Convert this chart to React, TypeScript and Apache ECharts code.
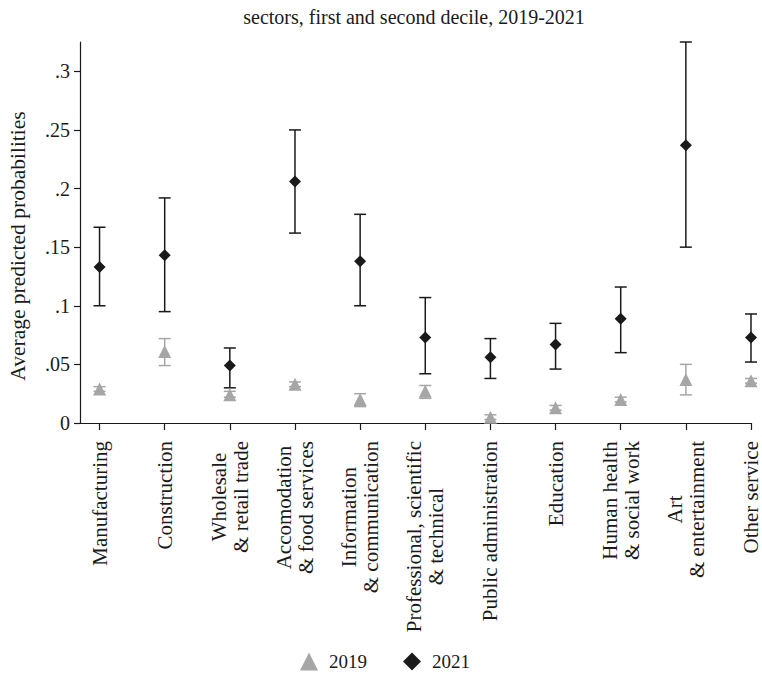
import React, { useEffect, useRef } from "react";
import * as echarts from "echarts";

const categories = [
  "Manufacturing",
  "Construction",
  "Wholesale\n& retail trade",
  "Accomodation\n& food services",
  "Information\n& communication",
  "Professional, scientific\n& technical",
  "Public administration",
  "Education",
  "Human health\n& social work",
  "Art\n& entertainment",
  "Other service",
];

const mean2019 = [0.029, 0.061, 0.024, 0.033, 0.020, 0.027, 0.005, 0.013, 0.020, 0.037, 0.036];
const low2019 = [0.027, 0.049, 0.022, 0.031, 0.014, 0.021, 0.003, 0.011, 0.018, 0.024, 0.034];
const high2019 = [0.031, 0.072, 0.027, 0.035, 0.025, 0.032, 0.007, 0.015, 0.022, 0.050, 0.038];

const mean2021 = [0.133, 0.143, 0.049, 0.206, 0.138, 0.073, 0.056, 0.067, 0.089, 0.237, 0.073];
const low2021 = [0.100, 0.095, 0.030, 0.162, 0.100, 0.042, 0.038, 0.046, 0.060, 0.150, 0.052];
const high2021 = [0.167, 0.192, 0.064, 0.250, 0.178, 0.107, 0.072, 0.085, 0.116, 0.325, 0.093];

const yTicks = [0, 0.05, 0.1, 0.15, 0.2, 0.25, 0.3];
const positions = categories.map((_, i) => i + 1);

const FONT = "Liberation Serif";
const INK = "#1a1a1a";

function errorBars(color: string) {
  return (params: any, api: any) => {
    const x = api.value(0);
    const lo = api.coord([x, api.value(1)]);
    const hi = api.coord([x, api.value(2)]);
    const w = 6;
    const style = { stroke: color, lineWidth: 1.5 };
    return {
      type: "group",
      children: [
        { type: "line", shape: { x1: hi[0], y1: hi[1], x2: lo[0], y2: lo[1] }, style },
        { type: "line", shape: { x1: hi[0] - w, y1: hi[1], x2: hi[0] + w, y2: hi[1] }, style },
        { type: "line", shape: { x1: lo[0] - w, y1: lo[1], x2: lo[0] + w, y2: lo[1] }, style },
      ],
    };
  };
}

export default function App() {
  const ref = useRef<HTMLDivElement>(null);
  useEffect(() => {
    if (!ref.current) return;
    const chart = echarts.init(ref.current, null, { renderer: "svg" });
    const grey = "#a6a6a6";
    const dark = "#1a1a1a";
    chart.setOption({
      animation: false,
      textStyle: { fontFamily: FONT, color: INK },
      title: {
        text: "sectors, first and second decile, 2019-2021",
        left: 409,
        top: 2,
        textAlign: "center",
        textStyle: { fontFamily: FONT, fontSize: 20, fontWeight: "normal", color: INK },
      },
      graphic: [
        {
          type: "text",
          x: 18,
          y: 246,
          rotation: Math.PI / 2,
          style: {
            text: "Average predicted probabilities",
            textAlign: "center",
            textVerticalAlign: "middle",
            fontFamily: FONT,
            fontSize: 21.5,
            fill: INK,
          },
        },
      ],
      grid: { left: 80, right: 9, top: 42, bottom: 262, containLabel: false },
      legend: {
        data: ["2019", "2021"],
        bottom: 9,
        left: 295,
        itemWidth: 18,
        itemHeight: 18,
        itemGap: 36,
        textStyle: { fontFamily: FONT, fontSize: 19, color: INK, padding: [0, 0, 0, 6] },
      },
      xAxis: {
        type: "value",
        min: 0.7,
        max: 11,
        splitLine: { show: false },
        axisLine: { show: true, onZero: false, lineStyle: { color: INK, width: 1.2 } },
        axisTick: { show: true, length: 7, customValues: positions, lineStyle: { color: INK, width: 1.2 } },
        axisLabel: {
          customValues: positions,
          rotate: 90,
          margin: 18,
          fontFamily: FONT,
          fontSize: 21,
          color: INK,
          lineHeight: 22,
          formatter: (v: number) => {
            const lbl = categories[Math.round(v) - 1] || "";
            return lbl
              .split("\n")
              .map((s) => "{c|" + s + "}")
              .join("\n");
          },
          rich: {
            c: { align: "center", fontFamily: FONT, fontSize: 21, color: INK, lineHeight: 22 },
          },
        },
      },
      yAxis: {
        type: "value",
        min: 0,
        max: 0.325,
        splitLine: { show: false },
        axisLine: { show: true, lineStyle: { color: INK, width: 1.2 } },
        axisTick: { show: true, length: 6, customValues: yTicks, lineStyle: { color: INK, width: 1.2 } },
        axisLabel: {
          customValues: yTicks,
          margin: 10,
          fontFamily: FONT,
          fontSize: 20,
          color: INK,
          formatter: (v: number) => (v === 0 ? "0" : String(+v.toFixed(3)).replace(/^0/, "")),
        },
      },
      series: [
        {
          name: "ci2019",
          type: "custom",
          renderItem: errorBars(grey),
          encode: { x: 0, y: [1, 2] },
          data: positions.map((p, i) => [p, low2019[i], high2019[i]]),
          z: 1,
        },
        {
          name: "ci2021",
          type: "custom",
          renderItem: errorBars(dark),
          encode: { x: 0, y: [1, 2] },
          data: positions.map((p, i) => [p, low2021[i], high2021[i]]),
          z: 1,
        },
        {
          name: "2019",
          type: "scatter",
          symbol: "triangle",
          symbolSize: 13,
          itemStyle: { color: grey, opacity: 1 },
          data: positions.map((p, i) => [p, mean2019[i]]),
          z: 3,
        },
        {
          name: "2021",
          type: "scatter",
          symbol: "diamond",
          symbolSize: 12,
          itemStyle: { color: dark, opacity: 1 },
          data: positions.map((p, i) => [p, mean2021[i]]),
          z: 3,
        },
      ],
    });
    return () => chart.dispose();
  }, []);
  return <div ref={ref} style={{ position: "absolute", left: 0, top: 0, width: 762, height: 685 }} />;
}
